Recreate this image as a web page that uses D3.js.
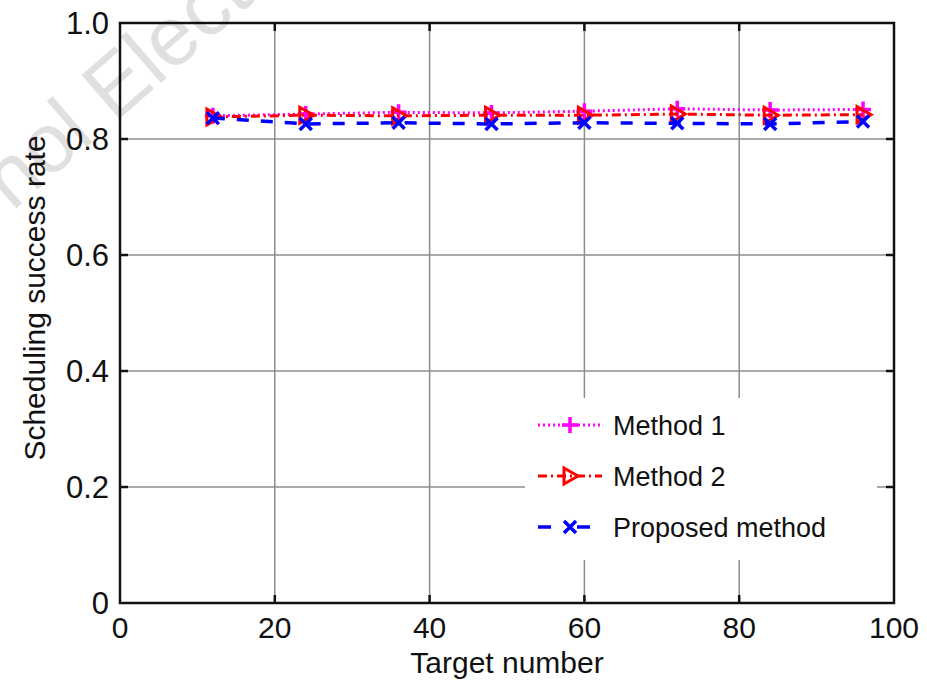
<!DOCTYPE html>
<html>
<head>
<meta charset="utf-8">
<script src="https://cdn.jsdelivr.net/npm/d3@7"></script>
<style>
  html, body { margin: 0; padding: 0; background: #fff; }
  svg { display: block; }
  text { font-family: "Liberation Sans", Arial, sans-serif; }
</style>
</head>
<body>
<svg id="chart" width="927" height="682"></svg>
<script>
// ---- data ----
const targets = [12, 24, 36, 48, 60, 72, 84, 96];
const method1 = [0.840, 0.843, 0.846, 0.845, 0.848, 0.852, 0.850, 0.851];
const method2 = [0.838, 0.841, 0.840, 0.841, 0.841, 0.843, 0.841, 0.842];
const proposed = [0.836, 0.826, 0.828, 0.826, 0.828, 0.827, 0.826, 0.830];
const xTicks = [0, 20, 40, 60, 80, 100];
const yTicks = [0, 0.2, 0.4, 0.6, 0.8, 1.0];
const yTickLabels = ["0", "0.2", "0.4", "0.6", "0.8", "1.0"];
const seriesNames = ["Method 1", "Method 2", "Proposed method"];

const svg = d3.select("#chart");
const W = 927, H = 682;
const m = { left: 120, right: 33, top: 23, bottom: 79 };
const x = d3.scaleLinear().domain([0, 100]).range([m.left, W - m.right]);
const y = d3.scaleLinear().domain([0, 1]).range([H - m.bottom, m.top]);

// watermark (partly outside the picture, as in the reference)
svg.append("text")
  .attr("transform", "translate(12,212) rotate(-41)")
  .attr("font-size", 84)
  .attr("fill", "#e0e0e0")
  .text("nol Elect");

// grid
const grid = svg.append("g").attr("stroke", "#8c8c8c").attr("stroke-width", 1.5);
grid.selectAll("line.gx").data(xTicks.slice(1, -1)).join("line")
  .attr("x1", d => x(d)).attr("x2", d => x(d))
  .attr("y1", y(0)).attr("y2", y(1));
grid.selectAll("line.gy").data(yTicks.slice(1, -1)).join("line")
  .attr("x1", x(0)).attr("x2", x(100))
  .attr("y1", d => y(d)).attr("y2", d => y(d));

// inward ticks
const tk = svg.append("g").attr("stroke", "#111").attr("stroke-width", 2.5);
xTicks.slice(1, -1).forEach(d => {
  tk.append("line").attr("x1", x(d)).attr("x2", x(d)).attr("y1", y(0)).attr("y2", y(0) - 8);
  tk.append("line").attr("x1", x(d)).attr("x2", x(d)).attr("y1", y(1)).attr("y2", y(1) + 8);
});
yTicks.slice(1, -1).forEach(d => {
  tk.append("line").attr("x1", x(0)).attr("x2", x(0) + 8).attr("y1", y(d)).attr("y2", y(d));
  tk.append("line").attr("x1", x(100)).attr("x2", x(100) - 8).attr("y1", y(d)).attr("y2", y(d));
});

// frame
svg.append("rect")
  .attr("x", x(0)).attr("y", y(1))
  .attr("width", x(100) - x(0)).attr("height", y(0) - y(1))
  .attr("fill", "none").attr("stroke", "#111").attr("stroke-width", 2.5);

// tick labels
svg.append("g").selectAll("text").data(xTicks).join("text")
  .attr("x", d => x(d)).attr("y", y(0) + 35)
  .attr("text-anchor", "middle").attr("font-size", 30).attr("fill", "#111")
  .text(d => d);
svg.append("g").selectAll("text").data(yTicks).join("text")
  .attr("x", x(0) - 11).attr("y", d => y(d) + 11)
  .attr("text-anchor", "end").attr("font-size", 31).attr("fill", "#111")
  .text((d, i) => yTickLabels[i]);

// axis titles
svg.append("text")
  .attr("x", 507).attr("y", 673)
  .attr("text-anchor", "middle").attr("font-size", 30).attr("fill", "#111")
  .text("Target number");
svg.append("text")
  .attr("transform", `translate(45,298) rotate(-90)`)
  .attr("text-anchor", "middle").attr("font-size", 30).attr("fill", "#111")
  .text("Scheduling success rate");

// series
const styles = [
  { color: "#ff00ff", dash: "2,3", width: 3, marker: "plus" },
  { color: "#ff0000", dash: "9,4,2,4", width: 3, marker: "tri" },
  { color: "#0000ff", dash: "12,12", width: 3.5, marker: "x" }
];
const seriesData = [method1, method2, proposed];

function drawMarker(g, type, cx, cy, color) {
  if (type === "plus") {
    g.append("path").attr("d", `M${cx - 8},${cy}H${cx + 8}M${cx},${cy - 8}V${cy + 8}`)
      .attr("stroke", color).attr("stroke-width", 3.5).attr("fill", "none");
  } else if (type === "tri") {
    g.append("path").attr("d", `M${cx - 6},${cy - 8}L${cx + 8},${cy}L${cx - 6},${cy + 8}Z`)
      .attr("stroke", color).attr("stroke-width", 3).attr("fill", "none");
  } else {
    g.append("path").attr("d", `M${cx - 6},${cy - 6}L${cx + 6},${cy + 6}M${cx - 6},${cy + 6}L${cx + 6},${cy - 6}`)
      .attr("stroke", color).attr("stroke-width", 3.5).attr("fill", "none");
  }
}

seriesData.forEach((vals, i) => {
  const st = styles[i];
  const g = svg.append("g");
  const line = d3.line().x((d, j) => x(targets[j])).y(d => y(d));
  g.append("path").datum(vals).attr("d", line)
    .attr("fill", "none").attr("stroke", st.color)
    .attr("stroke-width", st.width).attr("stroke-dasharray", st.dash);
  vals.forEach((v, j) => drawMarker(g, st.marker, x(targets[j]), y(v), st.color));
});

// legend
const lg = svg.append("g");
lg.append("rect").attr("x", 525).attr("y", 398).attr("width", 352).attr("height", 162)
  .attr("fill", "#fff");
const rowsY = [425, 476, 527];
seriesNames.forEach((name, i) => {
  const st = styles[i];
  const cy = rowsY[i];
  lg.append("line").attr("x1", 538).attr("x2", 602).attr("y1", cy).attr("y2", cy)
    .attr("stroke", st.color).attr("stroke-width", st.width)
    .attr("stroke-dasharray", i === 2 ? "13,26" : st.dash);
  drawMarker(lg, st.marker, 570, cy, st.color);
  lg.append("text").attr("x", 613).attr("y", cy + 10)
    .attr("font-size", 27).attr("fill", "#111").text(name);
});
</script>
</body>
</html>
